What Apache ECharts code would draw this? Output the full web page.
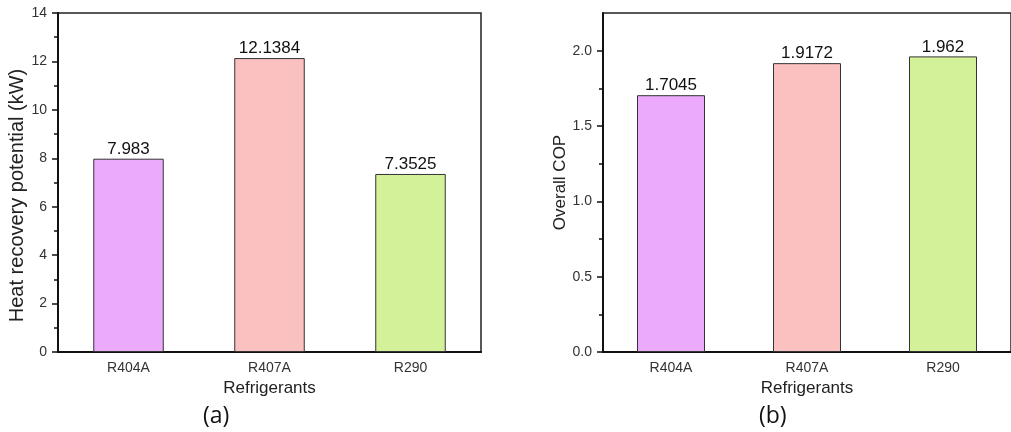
<!DOCTYPE html>
<html>
<head>
<meta charset="utf-8">
<script src="https://cdn.jsdelivr.net/npm/echarts@6/dist/echarts.min.js"></script>
<style>
html,body{margin:0;padding:0;background:#fff;}
#c{width:1011px;height:432px;}
</style>
</head>
<body>
<div id="c"></div>
<script>
const categories = ['R404A', 'R407A', 'R290'];
const heatRecovery = [7.983, 12.1384, 7.3525];
const overallCOP = [1.7045, 1.9172, 1.962];
const barColors = ['#EBAAFC', '#FBC0C0', '#D3F199'];
const leftMajorTicks = [0, 2, 4, 6, 8, 10, 12, 14];
const rightMajorTicks = [0, 0.5, 1.0, 1.5, 2.0];
const rightMinorTicks = [0.25, 0.75, 1.25, 1.75];
const panelLabels = ['(a)', '(b)'];
const xName = 'Refrigerants';
const yNames = ['Heat recovery potential (kW)', 'Overall COP'];

const FONT = '"Liberation Sans", Arial, sans-serif';
const chart = echarts.init(document.getElementById('c'));

function xAxisFor(gi) {
  return {
    type: 'category', gridIndex: gi, data: categories,
    name: xName, nameLocation: 'middle', nameGap: 27,
    nameTextStyle: {fontFamily: FONT, fontSize: 17, color: '#222'},
    axisLine: {lineStyle: {color: '#111', width: 2}},
    axisTick: {show: false},
    axisLabel: {fontFamily: FONT, fontSize: 14, color: '#333', margin: 9}
  };
}

const option = {
  animation: false,
  backgroundColor: '#fff',
  title: [
    {text: panelLabels[0], left: 203, top: 405, textStyle: {fontFamily: '"Open Sans", sans-serif', fontSize: 23, fontWeight: 'normal', color: '#111'}, padding: 0},
    {text: panelLabels[1], left: 759, top: 405, textStyle: {fontFamily: '"Open Sans", sans-serif', fontSize: 23, fontWeight: 'normal', color: '#111'}, padding: 0}
  ],
  grid: [
    {left: 58, top: 13, width: 423, height: 339, show: true, borderColor: '#222', borderWidth: 1.5, backgroundColor: 'transparent'},
    {left: 603, top: 13, width: 422, height: 339, show: true, borderColor: '#222', borderWidth: 1.5, backgroundColor: 'transparent'}
  ],
  xAxis: [xAxisFor(0), xAxisFor(1)],
  yAxis: [
    {
      type: 'value', gridIndex: 0, min: 0, max: 14, interval: 2,
      name: yNames[0], nameLocation: 'middle', nameGap: 29,
      nameTextStyle: {fontFamily: FONT, fontSize: 20, color: '#222', padding: [0, 26, 0, 0]},
      axisLine: {show: true, lineStyle: {color: '#111', width: 2}},
      axisTick: {show: true, length: 6, lineStyle: {color: '#111', width: 1.5}},
      minorTick: {show: true, splitNumber: 2, length: 4, lineStyle: {color: '#111', width: 1.5}},
      axisLabel: {fontFamily: FONT, fontSize: 14, color: '#333', margin: 11, customValues: leftMajorTicks},
      splitLine: {show: false}
    },
    {
      type: 'value', gridIndex: 1, min: 0, max: 2.25,
      name: yNames[1], nameLocation: 'middle', nameGap: 28,
      nameTextStyle: {fontFamily: FONT, fontSize: 17, color: '#222'},
      axisLine: {show: true, lineStyle: {color: '#111', width: 2}},
      axisTick: {show: true, length: 6, customValues: rightMajorTicks, lineStyle: {color: '#111', width: 1.5}},
      axisLabel: {fontFamily: FONT, fontSize: 14, color: '#333', margin: 11, customValues: rightMajorTicks,
        formatter: v => v.toFixed(1)},
      splitLine: {show: false}
    },
    {
      type: 'value', gridIndex: 1, min: 0, max: 2.25, position: 'left',
      axisLine: {show: false},
      axisTick: {show: true, length: 4, customValues: rightMinorTicks, lineStyle: {color: '#111', width: 1.5}},
      axisLabel: {show: false},
      splitLine: {show: false}
    }
  ],
  series: [
    {
      type: 'bar', xAxisIndex: 0, yAxisIndex: 0, barWidth: '50%',
      data: heatRecovery.map((v, i) => ({value: v, itemStyle: {color: barColors[i]}})),
      itemStyle: {borderColor: '#333', borderWidth: 1},
      label: {show: true, position: 'top', distance: 1, formatter: '{c}', fontFamily: FONT, fontSize: 17, color: '#111'}
    },
    {
      type: 'bar', xAxisIndex: 1, yAxisIndex: 1, barWidth: '50%',
      data: overallCOP.map((v, i) => ({value: v, itemStyle: {color: barColors[i]}})),
      itemStyle: {borderColor: '#333', borderWidth: 1},
      label: {show: true, position: 'top', distance: 1, formatter: '{c}', fontFamily: FONT, fontSize: 17, color: '#111'}
    }
  ]
};
chart.setOption(option);
</script>
</body>
</html>
